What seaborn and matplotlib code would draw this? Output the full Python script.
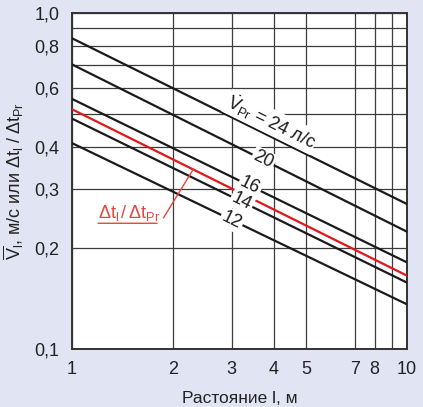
import numpy as np
import pandas as pd
import matplotlib
matplotlib.use("Agg")
import matplotlib.pyplot as plt
from matplotlib.ticker import FixedLocator, FixedFormatter, NullFormatter
import seaborn as sns

sns.set_theme(style="white")
plt.rcParams['font.family'] = ['Liberation Sans', 'DejaVu Sans']
plt.rcParams['mathtext.fontset'] = 'custom'
plt.rcParams['mathtext.rm'] = 'Liberation Sans'
plt.rcParams['mathtext.it'] = 'Liberation Sans'
plt.rcParams['mathtext.bf'] = 'Liberation Sans:bold'

# values at l = 1 m and l = 10 m
flows = ["24", "20", "16", "14", "12"]
dist = [1, 10]
v_at_1 = [0.841, 0.703, 0.555, 0.485, 0.410]
v_at_10 = [0.270, 0.2234, 0.181, 0.1576, 0.1358]
ratio = [0.517, 0.1653]
label_x = [3.93, 3.72, 3.40, 3.21, 3.0]

x_ticks = [1, 2, 3, 4, 5, 7, 8, 10]
x_minor = [9]
y_ticks = [0.1, 0.2, 0.3, 0.4, 0.6, 0.8, 1.0]
y_minor = [0.5, 0.7, 0.9]
y_ticklabels = ["0,1", "0,2", "0,3", "0,4", "0,6", "0,8", "1,0"]

BG = "#e1e4f2"
RED = "#e3161b"
RED_TXT = "#e8453a"
GRID = "#3c3c3c"

rows = []
for f, a, b in zip(flows, v_at_1, v_at_10):
    rows.append({"l": dist[0], "v": a, "flow": f})
    rows.append({"l": dist[1], "v": b, "flow": f})
df = pd.DataFrame(rows)
df_ratio = pd.DataFrame({"l": dist, "v": ratio})

fig = plt.figure(figsize=(4.23, 4.07), dpi=100, facecolor=BG)
ax = fig.add_axes([72 / 423, 1 - 349 / 407, 335 / 423, 336 / 407])
ax.set_facecolor("white")

sns.lineplot(data=df, x="l", y="v", hue="flow", palette=["#1a1a1a"] * len(flows),
             linewidth=1.6, legend=False, ax=ax, zorder=3)
sns.lineplot(data=df_ratio, x="l", y="v", color=RED, linewidth=1.6, ax=ax, zorder=3)

ax.set_xscale("log")
ax.set_yscale("log")
ax.set_xlim(1, 10)
ax.set_ylim(0.1, 1.0)

ax.xaxis.set_major_locator(FixedLocator(x_ticks))
ax.xaxis.set_major_formatter(FixedFormatter([str(t) for t in x_ticks]))
ax.xaxis.set_minor_locator(FixedLocator(x_minor))
ax.xaxis.set_minor_formatter(NullFormatter())
ax.yaxis.set_major_locator(FixedLocator(y_ticks))
ax.yaxis.set_major_formatter(FixedFormatter(y_ticklabels))
ax.yaxis.set_minor_locator(FixedLocator(y_minor))
ax.yaxis.set_minor_formatter(NullFormatter())
ax.tick_params(which="both", length=0, labelsize=13, colors="#222222")
ax.tick_params(axis="x", pad=9)
ax.tick_params(axis="y", pad=9)
ax.grid(True, which="both", color=GRID, linewidth=0.9, zorder=1)
for s in ax.spines.values():
    s.set_color("#333333")
    s.set_linewidth(1.4)

ax.set_xlabel("Растояние l, м", fontsize=12.5, color="#222222", labelpad=9)
ax.set_ylabel(r"$\overline{\mathrm{V}}_\mathrm{l}$, м/с или $\Delta\mathrm{t_l}\;/\;\Delta\mathrm{t_{Pr}}$",
              fontsize=13, color="#222222", labelpad=6)

# angle of the lines on screen
p0 = ax.transData.transform((1, v_at_1[0]))
p1 = ax.transData.transform((10, v_at_10[0]))
angle = np.degrees(np.arctan2(p1[1] - p0[1], p1[0] - p0[0]))


def on_line(x, a, b):
    k = np.log10(b / a)
    return a * x ** k


for i, f in enumerate(flows):
    x = label_x[i]
    y = on_line(x, v_at_1[i], v_at_10[i])
    if i == 0:
        ax.text(x, y * 1.108, r"$\dot{\mathrm{V}}_{\mathrm{Pr}}$ = 24 л/с", rotation=angle,
                rotation_mode="anchor", ha="center", va="center", fontsize=13,
                color="#1a1a1a", zorder=4,
                bbox=dict(boxstyle="square,pad=0.05", fc="white", ec="none"))
    else:
        ax.text(x, y, f, rotation=angle, rotation_mode="anchor", ha="center", va="center",
                fontsize=13, color="#1a1a1a", zorder=4,
                bbox=dict(boxstyle="square,pad=0.1", fc="white", ec="none"))

# red leader label
x_pt = 2.30
y_pt = on_line(x_pt, ratio[0], ratio[1])
ax.annotate(r"$\Delta\mathrm{t_l}\,/\,\Delta\mathrm{t_{Pr}}$", xy=(x_pt, y_pt), xytext=(1.196, 0.2367),
            textcoords="data", ha="left", va="bottom", fontsize=13, color=RED_TXT, zorder=5,
            arrowprops=dict(arrowstyle="-", color=RED_TXT, lw=1.0, shrinkA=0, shrinkB=0,
                            relpos=(1, 0)))
ax.annotate("", xy=(1.794, 0.2367), xytext=(1.196, 0.2367), textcoords="data",
            arrowprops=dict(arrowstyle="-", color=RED_TXT, lw=1.0, shrinkA=0, shrinkB=0))

fig.savefig("out.png", dpi=100, facecolor=BG)
